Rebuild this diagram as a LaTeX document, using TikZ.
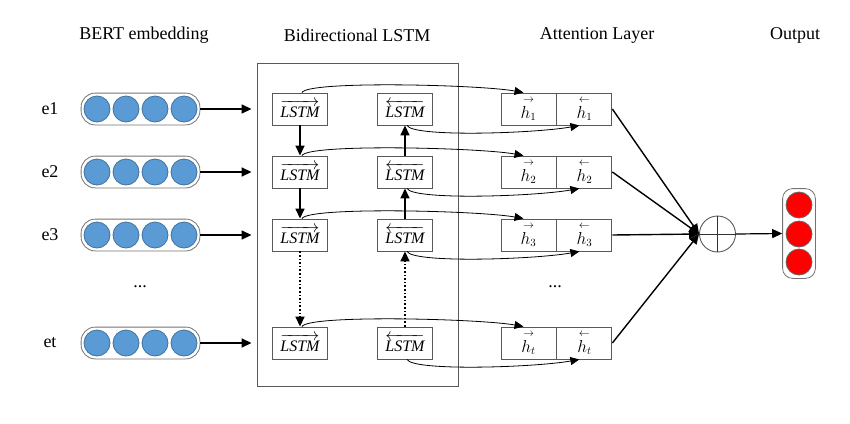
\documentclass[tikz,border=0pt]{standalone}
\usepackage{amsmath}
\usepackage{fontspec}
\setmainfont{Liberation Serif}
\usetikzlibrary{arrows.meta}
\usetikzlibrary{fit}
\usetikzlibrary{positioning}

\definecolor{embblue}{RGB}{91,155,213}
\definecolor{embline}{RGB}{65,113,156}

\begin{document}
\begin{tikzpicture}[x=1pt,y=1pt]

\tikzset{cell-box/.style={draw=black!65, line width=0.9pt, minimum width=55pt,
                          minimum height=32pt, inner sep=0pt,
                          font=\fontsize{16}{18}\selectfont},
         lstm-box/.style={cell-box, font=\fontsize{16}{18}\selectfont},
         emb-dot/.style={circle, draw=embline, line width=0.8pt, fill=embblue,
                         minimum size=26pt, inner sep=0pt},
         out-dot/.style={emb-dot, draw=black!60, fill=red},
         capsule/.style={draw=black!55, line width=0.8pt, rounded corners=14pt, inner sep=2.5pt},
         big-arrow/.style={-{Triangle[length=10pt,width=9pt]}, line width=1.6pt},
         thin-arrow/.style={-{Triangle[length=9pt,width=8pt]}, line width=0.8pt},
         title/.style={font=\fontsize{18}{22}\selectfont}}

\useasboundingbox (0,0) rectangle (850,-423);

% column titles
\node (t-bert) [title] at (144,-35) {BERT embedding};
\node (t-lstm) [title] at (357,-35) {Bidirectional LSTM};
\node (t-att)  [title] at (597,-35) {Attention Layer};
\node (t-out)  [title] at (795,-35) {Output};

\node (frame) [draw=black!65, line width=0.9pt, minimum width=201pt,
               minimum height=323pt] at (357.5,-224.5) {};

\foreach \i/\y in {1/109, 2/172, 3/235, t/343} {
  \node (lab-\i) [title] at (50,-\y) {e\i};
  \foreach \k/\x in {1/97, 2/126, 3/155, 4/184}
    \node (e\i-\k) [emb-dot] at (\x,-\y) {};
  \node (cap\i) [capsule, fit=(e\i-1)(e\i-4)] {};
  \draw[big-arrow, shorten >=5pt] (cap\i.east) -- (cap\i.east -| frame.west);

  \node (f\i) [lstm-box] at (300,-\y) {$\overrightarrow{\textit{LSTM}}$};
  \node (b\i) [lstm-box] at (405,-\y) {$\overleftarrow{\textit{LSTM}}$};
  \node (hf\i) [cell-box] at (528.5,-\y) {$\overset{\rightarrow}{h_{\i}}$};
  \node (hb\i) [cell-box, right=0pt of hf\i] {$\overset{\leftarrow}{h_{\i}}$};

  \draw[thin-arrow] ([xshift=2pt]f\i.north) .. controls +(6,12) and +(-45,8) .. ([xshift=-5pt]hf\i.north);
  \draw[thin-arrow] ([xshift=2pt]b\i.south) .. controls +(6,-12) and +(-45,-8) .. ([xshift=-5pt]hb\i.south);
}

\node (dots-e) [title] at (140,-287) {...};
\node (dots-h) [title] at (555,-287) {...};

% vertical flow in the LSTM
\draw[big-arrow] (f1) -- (f2);
\draw[big-arrow] (f2) -- (f3);
\draw[big-arrow, dotted] (f3) -- (ft);
\draw[big-arrow] (b2) -- (b1);
\draw[big-arrow] (b3) -- (b2);
\draw[big-arrow, dotted] (bt) -- (b3);

% merge and output
\node (merge) [circle, draw=black!65, line width=0.9pt, minimum size=36pt, inner sep=0pt] at (717.5,-234) {};
\draw[black!80, line width=0.9pt] (merge.north) -- (merge.south) (merge.west) -- (merge.east);
\foreach \i in {1,2,3,t}
  \draw[big-arrow, line width=1.4pt] (hb\i.east) -- (merge.west);

\foreach \k/\y in {1/205, 2/234, 3/262}
  \node (o\k) [out-dot] at (799,-\y) {};
\node (out-cap) [capsule, inner sep=3pt, rounded corners=10pt, fit=(o1)(o3)] {};
\draw[big-arrow, line width=1.2pt] (merge.east) -- (out-cap.west);

\end{tikzpicture}
\end{document}
